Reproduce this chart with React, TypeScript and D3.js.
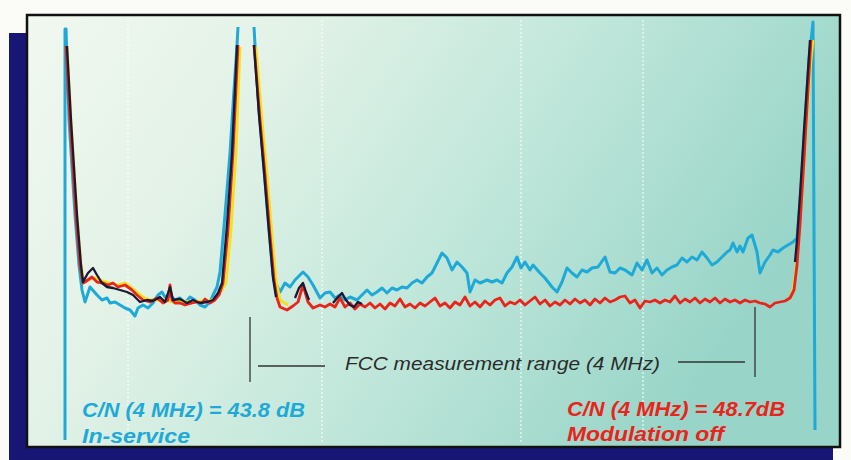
import { scaleLinear, line } from "d3";

type Pt = [number, number | null];

// x: kHz across the 6 MHz channel, y: dB below top of display (null = trace off screen)
const inService: Pt[] = [
  [0, -83], [0, -0.8], [8, -0.8], [32, -19], [80, -38], [112, -48], [136, -53], [160, -55.4],
  [200, -52.4], [256, -54], [296, -55], [336, -54.6], [360, -55.6], [400, -55.4], [440, -56],
  [480, -56.6], [520, -57], [560, -58.2], [584, -56.6], [624, -56], [664, -56.6], [704, -55.6],
  [744, -54], [776, -53.4], [800, -54.4], [840, -54], [880, -55], [920, -54.6], [960, -55.6],
  [1000, -54.4], [1040, -55], [1080, -56], [1120, -56.4], [1160, -55.4], [1184, -54], [1216, -52.4],
  [1240, -49.4], [1280, -38], [1320, -25.6], [1352, -13], [1376, -4], [1384, -0.4], [1448, null],
  [1512, -0.4], [1520, -4], [1552, -17], [1592, -29], [1632, -41], [1664, -50], [1680, -51.4],
  [1720, -53.4], [1760, -51.6], [1800, -52.4], [1840, -51], [1904, -49.4], [1944, -50.4], [1984, -52],
  [2040, -54.6], [2080, -53.6], [2120, -53.4], [2160, -54.6], [2200, -54], [2240, -55], [2280, -54.4],
  [2336, -55], [2376, -54], [2416, -53], [2456, -54], [2496, -53.4], [2536, -52.6], [2576, -53.6],
  [2616, -52.6], [2656, -53], [2696, -52.4], [2736, -52.6], [2776, -51.6], [2816, -51], [2856, -51.6],
  [2896, -50.4], [2936, -49.6], [2976, -47.6], [3016, -45.6], [3056, -46.6], [3096, -49], [3136, -47.4],
  [3176, -48.4], [3216, -49.6], [3240, -53.4], [3280, -51], [3320, -51.6], [3376, -51], [3416, -51.4],
  [3456, -51], [3496, -51.6], [3536, -49.6], [3576, -48.4], [3616, -46.4], [3648, -48.6], [3680, -47.4],
  [3720, -49], [3744, -48], [3800, -49.6], [3840, -50.6], [3896, -52.4], [3936, -53.4], [3976, -51.4],
  [4016, -48.6], [4056, -49.6], [4096, -50.4], [4136, -49], [4176, -49.4], [4216, -48.6], [4264, -48.4],
  [4320, -46.4], [4360, -49.4], [4400, -49.6], [4440, -48.6], [4480, -49], [4536, -50], [4576, -47.6],
  [4616, -49], [4656, -47], [4696, -49.6], [4736, -48.6], [4776, -50], [4816, -49], [4856, -48.4],
  [4896, -48], [4936, -46.6], [4976, -47.4], [5016, -46.4], [5056, -47], [5096, -45.4], [5136, -46.6],
  [5176, -48], [5216, -47.4], [5256, -46.4], [5296, -45.4], [5320, -45], [5344, -43.6], [5376, -45.4],
  [5400, -44.2], [5424, -45.4], [5464, -42.6], [5496, -42], [5536, -45.4], [5560, -49.6], [5600, -47.4],
  [5640, -46], [5664, -45], [5704, -45.4], [5744, -44.6], [5784, -44], [5824, -43.4], [5856, -42.6],
  [5888, -33], [5920, -20], [5952, -7], [5984, 0.6], [6000, -81],
];

const modulationOff: Pt[] = [
  [8, -4.2], [40, -19], [88, -38], [120, -48], [144, -51.6], [160, -51.4], [216, -50.4], [256, -51.4],
  [304, -51.6], [344, -52], [384, -51.6], [424, -52.4], [480, -52], [536, -53], [576, -54], [624, -55],
  [680, -55.4], [736, -54.6], [784, -55.6], [824, -55], [840, -52], [856, -55], [880, -55.6], [920, -55.6],
  [960, -56], [1016, -55.6], [1056, -55.4], [1096, -55.6], [1120, -54.8], [1160, -55.6], [1200, -55],
  [1232, -54], [1264, -51.6], [1304, -41], [1344, -25.6], [1384, -4], [1448, null], [1512, -4],
  [1560, -19], [1600, -30], [1640, -42], [1672, -51], [1696, -54.6], [1720, -56.4], [1776, -57],
  [1824, -56.2], [1864, -55.4], [1904, -52], [1944, -55.4], [1984, -56.6], [2040, -56], [2080, -56.4],
  [2120, -55.8], [2160, -56.4], [2200, -54.6], [2240, -56.4], [2280, -55.6], [2320, -56.8], [2360, -55.8],
  [2400, -56.4], [2440, -55.6], [2480, -56.6], [2520, -55.8], [2560, -56.8], [2600, -55.6], [2640, -56.2],
  [2680, -54.8], [2720, -56.4], [2760, -55.8], [2800, -56.6], [2840, -55.6], [2880, -56.2], [2920, -55.4],
  [2960, -54.6], [3000, -56.2], [3040, -55.6], [3080, -56.6], [3120, -55.4], [3160, -56], [3200, -54.4],
  [3240, -56.2], [3280, -55.4], [3320, -56.4], [3360, -55.2], [3400, -56], [3440, -55], [3480, -54.6],
  [3520, -56.2], [3560, -55.4], [3600, -55.8], [3640, -55], [3680, -56], [3720, -55.2], [3760, -54.4],
  [3800, -55.8], [3840, -55], [3880, -56.2], [3920, -55.4], [3960, -56], [4000, -55], [4040, -55.8],
  [4080, -54.8], [4120, -55.6], [4160, -55], [4200, -56], [4240, -54.8], [4280, -55.6], [4320, -54.6],
  [4360, -55.4], [4400, -55], [4440, -54.4], [4480, -54.2], [4520, -55.6], [4560, -55], [4600, -56.6],
  [4640, -55.2], [4680, -55.4], [4720, -55], [4760, -55.6], [4800, -55], [4840, -55.4], [4880, -54.2],
  [4920, -55.6], [4960, -54.8], [5000, -55.4], [5040, -54.6], [5080, -55.6], [5120, -54.8], [5160, -55.4],
  [5200, -54.6], [5240, -55.6], [5280, -54.8], [5320, -55.4], [5360, -55], [5400, -55.6], [5440, -55],
  [5480, -55.4], [5520, -55.2], [5560, -55.6], [5600, -55.8], [5640, -56.4], [5680, -55.6], [5720, -55.4],
  [5760, -55.2], [5800, -54.6], [5832, -53], [5856, -48], [5880, -40], [5912, -27], [5944, -13], [5968, -3],
];

const blackTrace: Pt[] = [
  [16, -4.2], [48, -19], [96, -38], [128, -48], [144, -51.4], [184, -49.6], [224, -48.6], [256, -50],
  [296, -51.6], [336, -52.4], [384, -52.6], [440, -53], [496, -53.4], [544, -54], [600, -55.4], [656, -55],
  [704, -55.2], [760, -54.4], [800, -55.4], [840, -52.4], [864, -55], [920, -54.8], [976, -55.6],
  [1024, -55], [1080, -55.6], [1136, -55.4], [1184, -55], [1224, -53.6], [1256, -51.6], [1296, -40],
  [1336, -25.6], [1376, -4], [1448, null], [1512, -4], [1552, -18], [1592, -29.4], [1632, -41.4],
  [1664, -50.6], [1688, -54.4], [1704, null], [1840, -54.6], [1872, -52.6], [1904, -51.6], [1928, -53.4],
  [1952, -55], [1968, null], [2144, -55.6], [2184, -54.4], [2216, -53.6], [2248, -55], [2280, -56],
  [2312, -56.4], [2344, -55.4], [2376, -55.8], [2400, null], [5840, -47.4], [5856, -43], [5880, -34],
  [5912, -21], [5944, -9], [5960, -3],
];

const yellowTrace: Pt[] = [
  [16, -4.2], [48, -19], [96, -38], [128, -48], [152, -51.6], [184, -51], [240, -50.6], [304, -51.2],
  [360, -51.6], [424, -52], [480, -51.6], [536, -52.6], [576, -53.4], [624, -54.4], [680, -55], [744, -55],
  [800, -55], [856, -55.4], [920, -55.2], [1000, -55.4], [1080, -55.2], [1160, -55.2], [1216, -54.4],
  [1256, -53], [1288, -51.6], [1328, -41], [1368, -25.6], [1400, -4.4], [1448, null], [1528, -4.4],
  [1576, -19], [1616, -30], [1656, -42], [1688, -51], [1720, -55], [1784, -56], [1808, null],
  [5792, -55], [5824, -53], [5848, -49], [5872, -42], [5896, -34], [5928, -21], [5960, -9], [5984, -3],
];

const gridFreqs = [504, 2056, 3648, 4624];
const fccRange = [1480, 5520];
const fccLabel = "FCC measurement range (4 MHz)";
const inServiceLabel = ["C/N (4 MHz)  =  43.8 dB", "In-service"];
const modOffLabel = ["C/N (4 MHz)  =  48.7dB", "Modulation off"];

const CYAN = "#1fa9d6";
const RED = "#e8241b";
const YELLOW = "#f2e21c";
const BLACK = "#1b1933";

export default function App() {
  const x = scaleLinear().domain([0, 6000]).range([65, 815]);
  const y = scaleLinear().domain([0, -80]).range([25, 425]);
  const path = line<Pt>()
    .defined(d => d[1] !== null)
    .x(d => x(d[0]))
    .y(d => y(d[1] as number));

  const font = "'Liberation Sans', Arial, Helvetica, sans-serif";

  return (
    <svg width={851} height={460} style={{ position: "absolute", left: 0, top: 0, background: "#fbfbf8" }}>
      <defs>
        <linearGradient id="panelBg" x1="0" y1="0" x2="1" y2="0.35">
          <stop offset="0" stopColor="#f1f8ef" />
          <stop offset="0.3" stopColor="#e3f2e7" />
          <stop offset="0.6" stopColor="#c4e8dc" />
          <stop offset="1" stopColor="#98d5c8" />
        </linearGradient>
      </defs>

      {/* shadow + panel */}
      <rect x={9} y={33} width={824} height={430} fill="#181674" />
      <rect x={27} y={15} width={813} height={432} fill="url(#panelBg)" stroke="#111" strokeWidth={2.5} />

      {/* faint dotted graticule */}
      {gridFreqs.map(f => (
        <line key={f} x1={x(f)} x2={x(f)} y1={20} y2={444}
          stroke="#ffffff" strokeOpacity={0.5} strokeWidth={2} strokeDasharray="2 2" />
      ))}

      {/* traces */}
      <path d={path(inService) ?? ""} fill="none" stroke={CYAN} strokeWidth={3} strokeLinejoin="round" />
      <path d={path(yellowTrace) ?? ""} fill="none" stroke={YELLOW} strokeWidth={2.8} strokeLinejoin="round" />
      <path d={path(modulationOff) ?? ""} fill="none" stroke={RED} strokeWidth={2.8} strokeLinejoin="round" />
      <path d={path(blackTrace) ?? ""} fill="none" stroke={BLACK} strokeWidth={2.3} strokeLinejoin="round" />

      {/* FCC measurement range bracket */}
      <line x1={x(fccRange[0])} x2={x(fccRange[0])} y1={317} y2={382} stroke="#333" strokeWidth={1.3} />
      <line x1={x(fccRange[1])} x2={x(fccRange[1])} y1={307} y2={377} stroke="#333" strokeWidth={1.3} />
      <line x1={258} x2={325} y1={366} y2={366} stroke="#333" strokeWidth={1.3} />
      <line x1={678} x2={745} y1={362} y2={362} stroke="#333" strokeWidth={1.3} />
      <text x={345} y={370} fontFamily={font} fontStyle="italic" fontSize={19} fill="#2b2b2b"
        textLength={315} lengthAdjust="spacingAndGlyphs">{fccLabel}</text>

      {/* C/N labels */}
      <g fontFamily={font} fontStyle="italic" fontWeight="bold" fontSize={20} style={{ whiteSpace: "pre" }}>
        <text x={82} y={417} fill={CYAN} textLength={223} lengthAdjust="spacingAndGlyphs">{inServiceLabel[0]}</text>
        <text x={82} y={443} fill={CYAN} textLength={108} lengthAdjust="spacingAndGlyphs">{inServiceLabel[1]}</text>
        <text x={567} y={416} fill={RED} textLength={218} lengthAdjust="spacingAndGlyphs">{modOffLabel[0]}</text>
        <text x={567} y={441} fill={RED} textLength={157} lengthAdjust="spacingAndGlyphs">{modOffLabel[1]}</text>
      </g>
    </svg>
  );
}
